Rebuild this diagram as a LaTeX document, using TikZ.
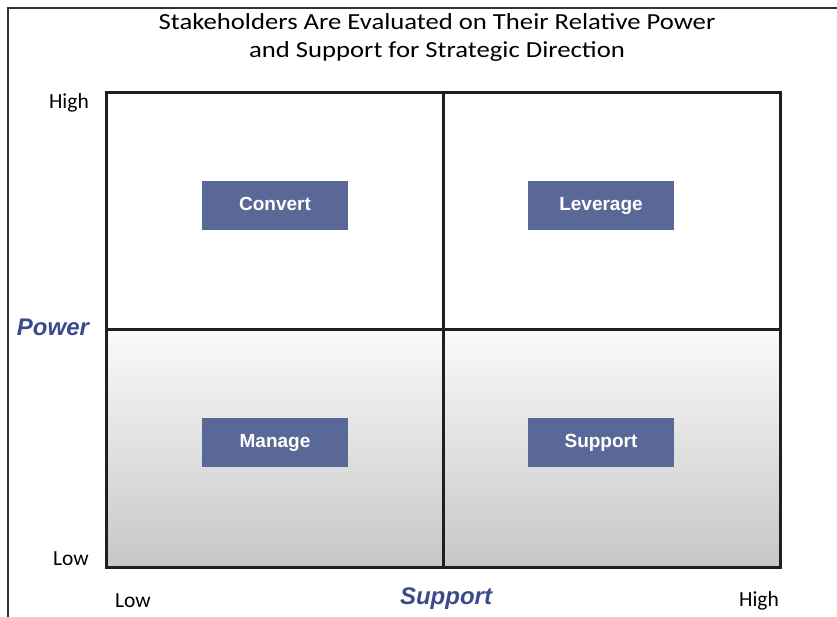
\documentclass[tikz,border=0pt]{standalone}
\usepackage{fontspec}
\setmainfont{Liberation Sans}
\newfontfamily\labelfont{Carlito}
\newfontfamily\titlefont[FakeStretch=1.16]{Carlito}
\usetikzlibrary{positioning}
\definecolor{boxblue}{RGB}{90,104,151}
\definecolor{axisblue}{RGB}{58,74,138}

\begin{document}
\begin{tikzpicture}[x=1pt, y=-1pt,
  quad/.style={fill=boxblue, text=white, font=\bfseries\fontsize{19}{19}\selectfont,
    minimum width=146pt, minimum height=49pt, inner sep=0pt, text height=14pt, text depth=4pt},
  level/.style={font=\labelfont\fontsize{21.5}{21.5}\selectfont, inner sep=0pt},
  axislabel/.style={font=\bfseries\itshape\fontsize{24}{24}\selectfont, text=axisblue, inner sep=0pt}]
\useasboundingbox (0,0) rectangle (837,617);
\draw[line width=1.2pt, black!80] (8,617) -- (8,8) -- (837,8);
% title
\node[font=\titlefont\fontsize{23}{28}\selectfont, align=center] (title) at (437,37)
  {Stakeholders Are Evaluated on Their Relative Power\\and Support for Strategic Direction};
% grid
\shade[top color=white!98!black, bottom color=black!22] (106,329) rectangle (780,567);
\draw[line width=3pt, black!88] (106,93) rectangle (780,567);
\draw[line width=3pt, black!88] (443,93) -- (443,567) (106,329) -- (780,329);
% quadrants
\foreach \name/\x/\y in {Convert/275/206, Leverage/601/206, Manage/275/442, Support/601/442}
  \node[quad] (\name) at (\x,\y) {\name};
% axis labels
\node[level, anchor=east] (powhigh) at (89,103) {High};
\node[level, anchor=east] (powlow) at (89,559) {Low};
\node[level] (suplow) at (133,601) {Low};
\node[level] (suphigh) at (759,601) {High};
\node[axislabel] (power) at (53,327) {Power};
\node[axislabel] (support) at (446,599) {Support};
\end{tikzpicture}
\end{document}
